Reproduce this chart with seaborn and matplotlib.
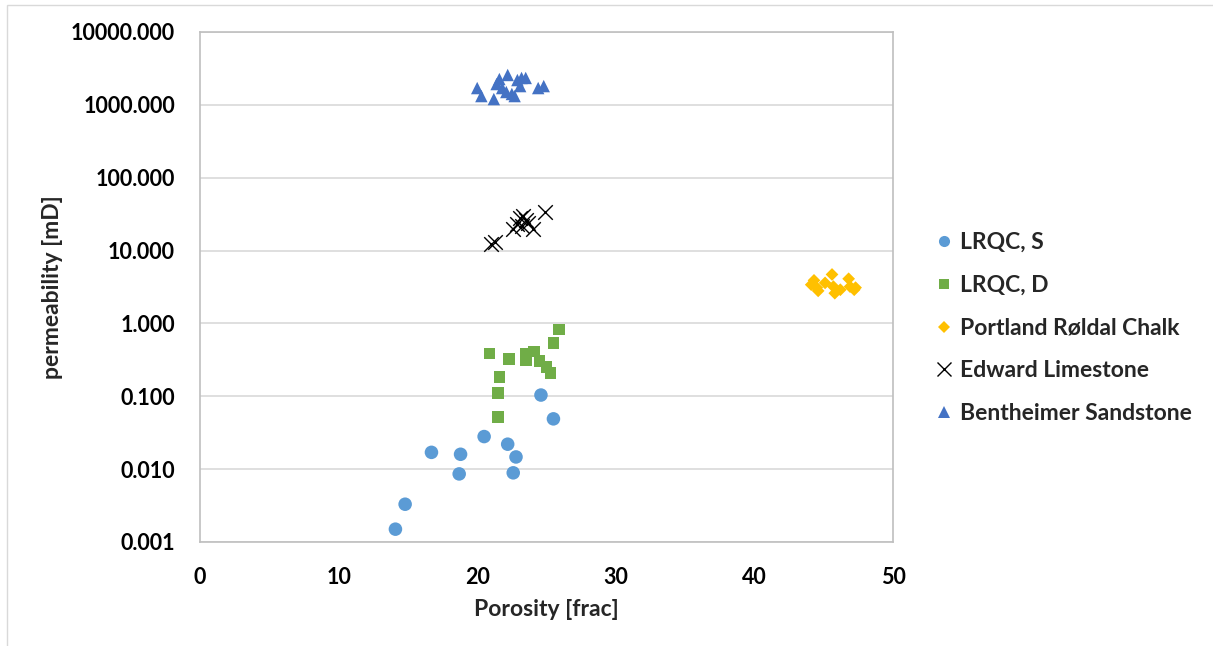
import numpy as np
import pandas as pd
import seaborn as sns
import matplotlib.pyplot as plt
from matplotlib.lines import Line2D
from matplotlib.patches import Rectangle
from matplotlib.ticker import FixedLocator, FormatStrFormatter

# Porosity [%] and permeability [mD] per rock type
phi_lrqc_s = [14.1, 14.8, 16.7, 18.8, 18.7, 20.5, 22.2, 22.8, 22.6, 24.6, 25.5]
k_lrqc_s = [0.0015, 0.0033, 0.017, 0.016, 0.0086, 0.028, 0.022, 0.0147, 0.0089, 0.104, 0.049]

phi_lrqc_d = [20.9, 22.3, 23.5, 23.5, 24.1, 24.5, 25.0, 25.3, 25.5, 25.9, 21.6, 21.5, 21.5]
k_lrqc_d = [0.385, 0.325, 0.38, 0.31, 0.41, 0.305, 0.25, 0.21, 0.54, 0.83, 0.184, 0.11, 0.052]

phi_portland = [44.3, 44.1, 44.6, 45.1, 45.6, 45.7, 45.8, 46.2, 46.8, 46.9, 47.3, 47.2, 44.5]
k_portland = [3.9, 3.4, 2.8, 3.6, 4.7, 3.2, 2.6, 2.9, 4.1, 3.2, 3.1, 2.9, 3.1]

phi_edward = [21.0, 21.3, 22.6, 22.9, 23.1, 23.3, 23.5, 23.2, 23.7, 24.0, 24.9]
k_edward = [12.5, 13.0, 20.0, 23.0, 28.0, 30.0, 26.0, 22.0, 24.0, 20.0, 34.0]

phi_bentheimer = [20.0, 20.3, 21.2, 21.4, 21.6, 21.8, 22.2, 22.1, 22.5, 22.7, 22.9, 23.1,
                  23.2, 23.5, 24.4, 24.8]
k_bentheimer = [1700, 1320, 1200, 1930, 2260, 1700, 2570, 1500, 1410, 1320, 2190, 1810,
                2340, 2340, 1700, 1810]

series_names = ["LRQC, S", "LRQC, D", "Portland Røldal Chalk", "Edward Limestone",
                "Bentheimer Sandstone"]
y_ticks = [0.001, 0.01, 0.1, 1, 10, 100, 1000, 10000]
x_ticks = [0, 10, 20, 30, 40, 50]

series = [
    (phi_lrqc_s, k_lrqc_s, "#5B9BD5", "o", 95),
    (phi_lrqc_d, k_lrqc_d, "#70AD47", "s", 70),
    (phi_portland, k_portland, "#FFC000", "D", 42),
    (phi_edward, k_edward, "#000000", "x", 110),
    (phi_bentheimer, k_bentheimer, "#4472C4", "^", 80),
]

sns.set_theme(style="white")
plt.rcParams["font.family"] = ["Lato", "DejaVu Sans"]
plt.rcParams["font.weight"] = "bold"

fig = plt.figure(figsize=(12.13, 6.46), dpi=100)
ax = fig.add_axes([200 / 1213, 1 - 542 / 646, 693 / 1213, 510 / 646])

# thin chart-area frame
fig.patches.append(Rectangle((7 / 1213, -0.1), 1.2, 1 - 5 / 646 + 0.1, transform=fig.transFigure,
                             fill=False, edgecolor="#D9D9D9", linewidth=1.0, zorder=0))

for (x, y, color, marker, size), name in zip(series, series_names):
    df = pd.DataFrame({"porosity": x, "permeability": y})
    if marker == "x":
        sns.scatterplot(data=df, x="porosity", y="permeability", ax=ax, marker=marker,
                        color=color, s=size, linewidth=1.0, zorder=3)
    else:
        sns.scatterplot(data=df, x="porosity", y="permeability", ax=ax, marker=marker,
                        color=color, s=size, edgecolor="none", linewidth=0, zorder=3)

ax.set_yscale("log")
ax.set_ylim(0.001, 10000)
ax.set_xlim(0, 50)
ax.yaxis.set_major_locator(FixedLocator(y_ticks))
ax.yaxis.set_minor_locator(FixedLocator([]))
ax.yaxis.set_major_formatter(FormatStrFormatter("%.3f"))
ax.xaxis.set_major_locator(FixedLocator(x_ticks))
ax.grid(axis="y", color="#D9D9D9", linewidth=1.2)
ax.grid(axis="x", visible=False)
for sp in ax.spines.values():
    sp.set_color("#BFBFBF")
    sp.set_linewidth(1.2)
ax.tick_params(axis="both", length=0, labelsize=15.5, colors="black")
ax.tick_params(axis="x", pad=18)
ax.tick_params(axis="y", pad=18)
for lab in ax.get_xticklabels() + ax.get_yticklabels():
    lab.set_fontweight("bold")

ax.set_xlabel("Porosity [frac]", fontsize=16.5, fontweight="bold", labelpad=8)
ax.set_ylabel("permeability [mD]", fontsize=16.5, fontweight="bold", labelpad=6)

handles = []
for (x, y, color, marker, size), name in zip(series, series_names):
    if marker == "x":
        h = Line2D([], [], linestyle="none", marker="x", color=color, markersize=10,
                   markeredgewidth=1.0)
    else:
        ms = {"o": 8, "s": 7, "D": 6, "^": 8}[marker]
        h = Line2D([], [], linestyle="none", marker=marker, color=color, markersize=ms,
                   markeredgewidth=0)
    handles.append(h)

leg = ax.legend(handles, series_names, loc="upper left", bbox_to_anchor=(937 / 1213, 1 - 232 / 646),
                bbox_transform=fig.transFigure, frameon=False, handlelength=0.65,
                handletextpad=0.35, labelspacing=0.95, prop={"size": 16.5, "weight": "bold"},
                borderaxespad=0, borderpad=0)

fig.savefig("out.png", dpi=100)
